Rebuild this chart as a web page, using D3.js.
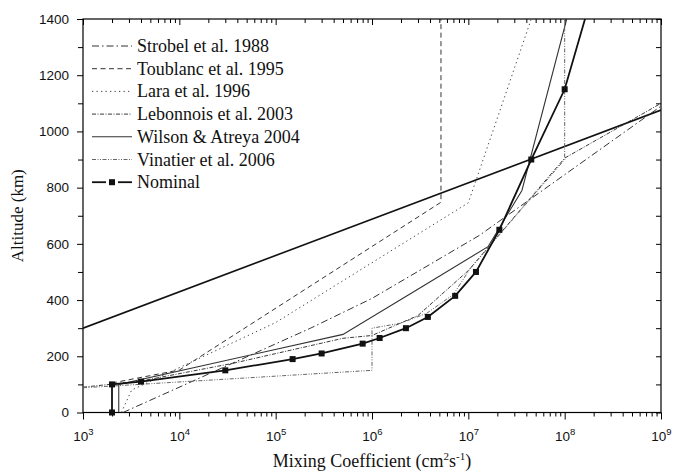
<!DOCTYPE html>
<html>
<head>
<meta charset="utf-8">
<script src="https://cdn.jsdelivr.net/npm/d3@7/dist/d3.min.js"></script>
<style>
  body { margin: 0; background: #fff; }
  text { fill: #111; }
</style>
</head>
<body>
<svg id="chart" width="674" height="473"></svg>
<script>
// Axis ticks
const xTickExps = [3, 4, 5, 6, 7, 8, 9];
const yTicks = [0, 200, 400, 600, 800, 1000, 1200, 1400];

// Eddy mixing profiles: [K (cm^2 s^-1), altitude (km)]
const strobel1988 = [[2.6e3, 0], [2.3e5, 300], [1e6, 406], [1.3e7, 630], [1e9, 1090]];
const toublanc1995 = [[2e3, 105], [1e4, 151], [5.2e6, 748], [5.2e6, 1400]];
const lara1996 = [[2.5e3, 0], [3.2e3, 80], [1e5, 320], [1e7, 746], [4.5e7, 1400]];
const lebonnois2003 = [[1e3, 90], [4e3, 112], [3.6e4, 175], [5e5, 264], [1e6, 274], [3e6, 345], [1e7, 505], [1e8, 905], [1e9, 1100]];
const wilsonAtreya2004 = [[2.35e3, 0], [2.35e3, 100], [5e5, 278], [3.4e6, 450], [1.6e7, 590], [3.6e7, 790], [1.05e8, 1400]];
const vinatier2006 = [[1e3, 88], [1e6, 150], [1e6, 300], [2e6, 318], [3.7e6, 353], [7e6, 420], [1.05e7, 513], [1e8, 900], [1e8, 1400]];
const nominal = [[2e3, 0], [2e3, 100], [4e3, 110], [3e4, 150], [1.5e5, 190], [3e5, 210], [8e5, 245],
  [1.2e6, 265], [2.25e6, 300], [3.8e6, 340], [7.3e6, 415], [1.2e7, 500], [2.1e7, 650],
  [4.5e7, 900], [1e8, 1150], [2.4e8, 1600]];
// Straight reference profile (no legend entry)
const straightProfile = [[1e3, 300], [1e9, 1076]];

const legendNames = ["Strobel et al. 1988", "Toublanc et al. 1995", "Lara et al. 1996",
  "Lebonnois et al. 2003", "Wilson & Atreya 2004", "Vinatier et al. 2006", "Nominal"];

const svg = d3.select("#chart");
const plot = { left: 83, right: 661, top: 19, bottom: 412.5 };

const x = d3.scaleLog().domain([1e3, 1e9]).range([plot.left, plot.right]);
const y = d3.scaleLinear().domain([0, 1400]).range([plot.bottom, plot.top]);

const majorK = xTickExps.map(e => Math.pow(10, e));
const minorK = [];
xTickExps.slice(0, -1).forEach(e => { for (let d = 2; d <= 9; d++) minorK.push(d * Math.pow(10, e)); });
const yMinor = d3.range(100, 1400, 200);

svg.append("defs").append("clipPath").attr("id", "plotClip")
  .append("rect")
  .attr("x", plot.left).attr("y", plot.top)
  .attr("width", plot.right - plot.left).attr("height", plot.bottom - plot.top);

function drawAxis(axis, tx, ty) {
  const g = svg.append("g").attr("transform", `translate(${tx},${ty})`).call(axis);
  g.select(".domain").remove();
  g.selectAll(".tick line").attr("stroke", "#000").attr("stroke-width", 1);
  return g;
}

// bottom axis: outward ticks, decade labels
const bottom = drawAxis(d3.axisBottom(x).tickValues(majorK).tickSize(7).tickFormat(""), 0, plot.bottom);
drawAxis(d3.axisBottom(x).tickValues(minorK).tickSize(4).tickFormat(""), 0, plot.bottom);
bottom.selectAll(".tick text").each(function (d) {
  const t = d3.select(this);
  t.text(null).attr("y", 28.5).attr("dy", 0)
    .attr("font-family", "'Liberation Sans', Arial, sans-serif").attr("font-size", 13.5)
    .attr("fill", "#111");
  t.append("tspan").text("10");
  t.append("tspan").attr("dy", -6).attr("font-size", 9.5).text(Math.round(Math.log10(d)));
});

// top axis: inward ticks
drawAxis(d3.axisTop(x).tickValues(majorK).tickSize(-6).tickFormat(""), 0, plot.top);
drawAxis(d3.axisTop(x).tickValues(minorK).tickSize(-4).tickFormat(""), 0, plot.top);

// left axis: outward ticks with labels
const left = drawAxis(d3.axisLeft(y).tickValues(yTicks).tickSize(6).tickPadding(8).tickFormat(d3.format("d")), plot.left, 0);
drawAxis(d3.axisLeft(y).tickValues(yMinor).tickSize(5).tickFormat(""), plot.left, 0);
left.selectAll(".tick text")
  .attr("font-family", "'Liberation Sans', Arial, sans-serif").attr("font-size", 13.5).attr("fill", "#111");

// right axis: inward ticks
drawAxis(d3.axisRight(y).tickValues(yTicks.concat(yMinor)).tickSize(-5).tickFormat(""), plot.right, 0);

// frame
svg.append("rect")
  .attr("x", plot.left).attr("y", plot.top)
  .attr("width", plot.right - plot.left).attr("height", plot.bottom - plot.top)
  .attr("fill", "none").attr("stroke", "#000").attr("stroke-width", 1.2);

const line = d3.line().x(d => x(d[0])).y(d => y(d[1]));

const styles = [
  { data: strobel1988, color: "#333", width: 1, dash: "7,3,1.5,3" },
  { data: toublanc1995, color: "#333", width: 1, dash: "5,3.5" },
  { data: lara1996, color: "#444", width: 1, dash: "1.3,3.2" },
  { data: lebonnois2003, color: "#222", width: 0.9, dash: "4,1.5,1,1.5" },
  { data: wilsonAtreya2004, color: "#333", width: 1.1, dash: null },
  { data: vinatier2006, color: "#666", width: 1, dash: "4,1.5,1,1.5,1,1.5" },
  { data: nominal, color: "#111", width: 1.8, dash: null, markers: true }
];

const lines = svg.append("g").attr("clip-path", "url(#plotClip)");

lines.append("path")
  .attr("d", line(straightProfile))
  .attr("fill", "none").attr("stroke", "#111").attr("stroke-width", 1.6);

styles.forEach(s => {
  lines.append("path")
    .attr("d", line(s.data))
    .attr("fill", "none")
    .attr("stroke", s.color)
    .attr("stroke-width", s.width)
    .attr("stroke-dasharray", s.dash);
});

// nominal markers
const markerSize = 6;
svg.append("g").selectAll("rect")
  .data(nominal.filter(d => d[1] <= 1400))
  .join("rect")
  .attr("x", d => x(d[0]) - markerSize / 2)
  .attr("y", d => y(d[1]) - markerSize / 2)
  .attr("width", markerSize).attr("height", markerSize)
  .attr("fill", "#111");

// legend
const legend = svg.append("g");
const lx0 = 92, lx1 = 132, ly0 = 46, lstep = 22.7;
styles.forEach((s, i) => {
  const cy = ly0 + i * lstep;
  const mid = (lx0 + lx1) / 2;
  // the marker entry leaves a small gap on either side of its square
  const segs = s.markers ? [[lx0, mid - 6], [mid + 6, lx1]] : [[lx0, lx1]];
  segs.forEach(([a, b]) => {
    legend.append("line")
      .attr("x1", a).attr("x2", b).attr("y1", cy).attr("y2", cy)
      .attr("stroke", s.color).attr("stroke-width", s.width)
      .attr("stroke-dasharray", s.dash);
  });
  if (s.markers) {
    legend.append("rect")
      .attr("x", mid - 3).attr("y", cy - 3)
      .attr("width", 6).attr("height", 6).attr("fill", "#111");
  }
  legend.append("text")
    .attr("x", 137).attr("y", cy + 6)
    .attr("font-family", "'Liberation Serif', 'Times New Roman', serif")
    .attr("font-size", 18)
    .text(legendNames[i]);
});

// axis titles
const xTitle = svg.append("text")
  .attr("x", (plot.left + plot.right) / 2).attr("y", 467)
  .attr("text-anchor", "middle")
  .attr("font-family", "'Liberation Serif', 'Times New Roman', serif")
  .attr("font-size", 18);
xTitle.append("tspan").text("Mixing Coefficient (cm");
xTitle.append("tspan").attr("dy", -7).attr("font-size", 11).text("2");
xTitle.append("tspan").attr("dy", 7).text("s");
xTitle.append("tspan").attr("dy", -7).attr("font-size", 11).text("-1");
xTitle.append("tspan").attr("dy", 7).text(")");

svg.append("text")
  .attr("transform", `translate(23,${(plot.top + plot.bottom) / 2}) rotate(-90)`)
  .attr("text-anchor", "middle")
  .attr("font-family", "'Liberation Serif', 'Times New Roman', serif")
  .attr("font-size", 17)
  .text("Altitude (km)");
</script>
</body>
</html>
